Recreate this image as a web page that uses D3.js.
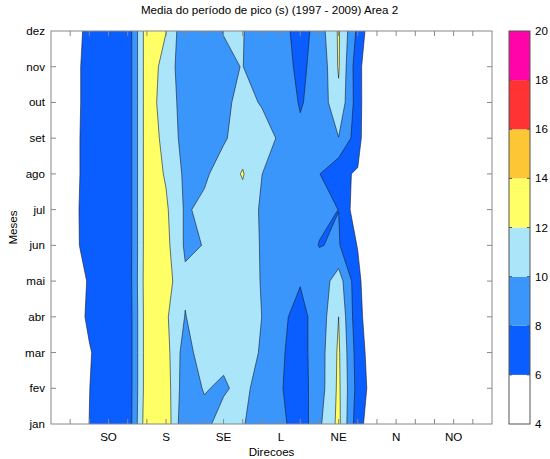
<!DOCTYPE html>
<html><head><meta charset="utf-8">
<script src="https://cdnjs.cloudflare.com/ajax/libs/d3/7.8.5/d3.min.js"></script>
<style>body{margin:0;background:#fff} text{font-family:"Liberation Sans",Arial,sans-serif;font-size:11.6px;fill:#000}</style>
</head><body><svg id="c" width="550" height="459"></svg>
<script>
// ---- data ----
const months = ["jan","fev","mar","abr","mai","jun","jul","ago","set","out","nov","dez"];
const dirLabels = ["SO","S","SE","L","NE","N","NO"];
const dirLabelPos = [3,6,9,12,15,18,21];
const colTicks = d3.range(1,23);
// peak period (s) per direction column (0..23) for each month
const jan = [3,4.5,6.02,7.2,6.5,13.5,13.37,8.1,9.2,11.3,10.1,9.27,8.54,6.75,9.66,12.52,6.66,4.46,3,3,3,3,3,3];
const fev = [3,4.5,5.97,7.2,6.5,13.2,13.04,8.7,10.18,9.6,10.9,8.6,8.09,7.2,9.06,12.4,7.18,4.67,3,3,3,3,3,3];
const mar = [3,4.5,5.8,7.47,6.5,13.2,12.75,8.98,11.35,10.7,10.8,9.82,8.18,7.3,9.05,12.3,6.95,4.45,3,3,3,3,3,3];
const abr = [3,4.33,6.5,7.2,6.5,13.2,12.28,9.92,11.2,11.0,10.8,9.99,8.32,7.47,8.8,12.0,6.5,4.5,3,3,3,3,3,3];
const mai = [3,4.16,6.3,7.2,6.6,13.3,12.89,10.34,10.6,10.8,10.9,9.9,9.3,8.1,8.8,11.0,6.6,3,3,3,3,3,3,3];
const jun = [3,5.08,7,7.2,6.6,13.2,12.57,9.71,10.05,10.8,11.0,9.85,9.2,8.7,7.95,8.16,5.89,3,3,3,3,3,3,3];
const jul = [3,5.15,7,7.2,6.6,13.2,12.3,9.74,10.5,11.0,11.2,9.74,9.2,8.8,8.3,7.99,4.67,3,3,3,3,3,3,3];
const ago = [3,4.96,7,7.2,6.6,13.2,11.8,9.6,9.65,11.0,12.15,10.02,9.0,9.0,8.05,6.4,5.8,3,3,3,3,3,3,3];
const set = [3,4.96,7,7.2,6.6,13.2,11.35,9.24,9.3,9.75,11.0,10.8,9.69,8.3,9.0,9.95,6.9,2,3,3,3,3,3,3];
const out = [3,4.78,7,7.2,6.6,13.2,10.85,9.33,9.2,9.55,10.6,9.85,8.9,7.88,8.6,11.6,6.9,2.5,3,3,3,3,3,3];
const nov = [3,4.78,7,7.2,6.6,13.2,11.2,8.65,9.0,9.69,10.05,8.38,8.39,7.78,8.42,12.19,6.6,3.6,3,3,3,3,3,3];
const dez = [3,4.14,7,7.2,6.6,13.2,12.05,8.4,9.0,10.05,10.1,8.67,8.93,6.95,9.05,12.22,7.5,3.5,3,3,3,3,3,3];
const levels = [4,6,8,10,12,14,16,18,20];
const colors = ["#ffffff","#0a5eff","#3a96fb","#aae5f9","#ffff66","#fcc634","#ff3333","#ff04a8"];

const rows = [jan,fev,mar,abr,mai,jun,jul,ago,set,out,nov,dez];
const nCols = jan.length, nRows = rows.length;

// ---- layout ----
const svg = d3.select("#c");
const L = 51, R = 492, T = 31, B = 424;
const x = d3.scaleLinear().domain([0, nCols-1]).range([L, R]);
const y = d3.scaleLinear().domain([0, nRows-1]).range([B, T]);
const axisCol = "#888";

svg.append("defs").append("clipPath").attr("id","clip")
  .append("rect").attr("x",L).attr("y",T).attr("width",R-L).attr("height",B-T);

const values = [].concat(...rows);
const thr = levels.slice(1, -1);
const contours = d3.contours().size([nCols, nRows]).thresholds(thr)(values);
const proj = d3.geoTransform({point: function(px, py){ this.stream.point(x(px-0.5), y(py-0.5)); }});
const path = d3.geoPath(proj);

const g = svg.append("g").attr("clip-path","url(#clip)");
g.selectAll("path").data(contours).join("path")
  .attr("d", path)
  .attr("fill", d => colors[levels.indexOf(d.value)])
  .attr("stroke", "#1a1a2a").attr("stroke-width", 0.6).attr("stroke-linejoin","round");

// axis box
svg.append("rect").attr("x",L).attr("y",T).attr("width",R-L).attr("height",B-T)
  .attr("fill","none").attr("stroke",axisCol).attr("stroke-width",1);

// x ticks (bottom & top, inward)
colTicks.forEach(c => {
  svg.append("line").attr("x1",x(c)).attr("x2",x(c)).attr("y1",B).attr("y2",B-5).attr("stroke",axisCol);
  svg.append("line").attr("x1",x(c)).attr("x2",x(c)).attr("y1",T).attr("y2",T+5).attr("stroke",axisCol);
});
dirLabels.forEach((lab,i) => {
  svg.append("text").attr("x",x(dirLabelPos[i])).attr("y",441).attr("text-anchor","middle").text(lab);
});
// y ticks
months.forEach((m,i) => {
  if (i>0 && i<nRows-1) {
    svg.append("line").attr("x1",L).attr("x2",L+5).attr("y1",y(i)).attr("y2",y(i)).attr("stroke",axisCol);
    svg.append("line").attr("x1",R).attr("x2",R-5).attr("y1",y(i)).attr("y2",y(i)).attr("stroke",axisCol);
  }
  svg.append("text").attr("x",45).attr("y",y(i)+4).attr("text-anchor","end").text(m);
});

svg.append("text").attr("x",(L+R)/2).attr("y",456).attr("text-anchor","middle").text("Direcoes");
svg.append("text").attr("transform",`translate(17,${(T+B)/2}) rotate(-90)`).attr("text-anchor","middle").text("Meses");
svg.append("text").attr("x",(L+R)/2 - 2).attr("y",14).attr("text-anchor","middle").text("Media do período de pico (s) (1997 - 2009) Area 2");

// colorbar
const cbL = 509, cbR = 530;
const cy = d3.scaleLinear().domain([levels[0], levels[levels.length-1]]).range([B, T]);
colors.forEach((c,i) => {
  svg.append("rect").attr("x",cbL).attr("width",cbR-cbL)
    .attr("y",cy(levels[i+1])).attr("height",cy(levels[i])-cy(levels[i+1])).attr("fill",c);
});
svg.append("rect").attr("x",cbL).attr("y",T).attr("width",cbR-cbL).attr("height",B-T)
  .attr("fill","none").attr("stroke","#555");
levels.forEach(v => {
  if (v>levels[0] && v<levels[levels.length-1]) {
    svg.append("line").attr("x1",cbR).attr("x2",cbR-3).attr("y1",cy(v)).attr("y2",cy(v)).attr("stroke","#555");
    svg.append("line").attr("x1",cbL).attr("x2",cbL+3).attr("y1",cy(v)).attr("y2",cy(v)).attr("stroke","#555");
  }
  svg.append("text").attr("x",535).attr("y",cy(v)+4).text(v);
});
</script></body></html>
